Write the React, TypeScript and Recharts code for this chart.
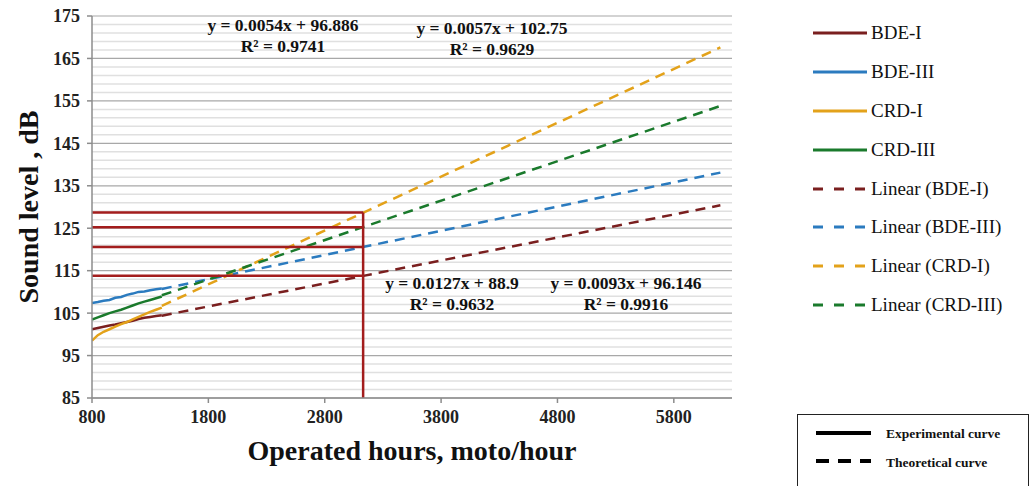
import { LineChart, Line, XAxis, YAxis, CartesianGrid, ReferenceLine } from 'recharts';

// experimental measurements (moto hours vs dB)
const HOURS_EXP = [800, 850, 900, 950, 1000, 1050, 1100, 1150, 1200, 1250, 1300, 1350, 1400];
const BDE_I = [101.2, 101.5, 101.8, 102.1, 102.3, 102.6, 102.9, 103.2, 103.6, 103.9, 104.1, 104.3, 104.5];
const BDE_III = [107.4, 107.6, 107.9, 108.1, 108.6, 108.8, 109.3, 109.6, 110.0, 110.1, 110.4, 110.6, 110.8];
const CRD_I = [98.5, 99.8, 100.6, 101.2, 101.8, 102.4, 102.9, 103.5, 104.1, 104.7, 105.3, 105.8, 106.3];
const CRD_III = [103.5, 104.0, 104.5, 105.0, 105.4, 105.8, 106.3, 106.8, 107.3, 107.7, 108.1, 108.5, 108.9];

// linear trend lines (start / end points)
const HOURS_TREND = [1400, 6200];
const TREND_BDE_I = [104.4, 130.4];
const TREND_BDE_III = [110.7, 138.1];
const TREND_CRD_I = [106.7, 167.6];
const TREND_CRD_III = [109.2, 153.8];

// guide lines at the reading point
const GUIDE_HOUR = 3130;
const GUIDE_LEVELS = [128.7, 125.2, 120.6, 113.8];

const X_TICKS = [800, 1800, 2800, 3800, 4800, 5800];
const Y_TICKS = [85, 95, 105, 115, 125, 135, 145, 155, 165, 175];
const Y_MINOR = Array.from({ length: 46 }, (_, i) => 85 + i * 2).filter((v) => !Y_TICKS.includes(v));

const EQUATIONS = [
  { eq: 'y = 0.0054x + 96.886', r2: 'R² = 0.9741', left: 283, top: 15 },
  { eq: 'y = 0.0057x + 102.75', r2: 'R² = 0.9629', left: 492, top: 18 },
  { eq: 'y = 0.0127x + 88.9', r2: 'R² = 0.9632', left: 452, top: 273 },
  { eq: 'y = 0.0093x + 96.146', r2: 'R² = 0.9916', left: 626, top: 273 },
];

const COLORS = {
  bdeI: '#7a1f1f',
  bdeIII: '#2b7bbf',
  crdI: '#e3a21a',
  crdIII: '#1a7a2c',
  guide: '#a31d1d',
};

const SERIES = [
  { name: 'BDE-I', color: COLORS.bdeI, dashed: false },
  { name: 'BDE-III', color: COLORS.bdeIII, dashed: false },
  { name: 'CRD-I', color: COLORS.crdI, dashed: false },
  { name: 'CRD-III', color: COLORS.crdIII, dashed: false },
  { name: 'Linear (BDE-I)', color: COLORS.bdeI, dashed: true },
  { name: 'Linear (BDE-III)', color: COLORS.bdeIII, dashed: true },
  { name: 'Linear (CRD-I)', color: COLORS.crdI, dashed: true },
  { name: 'Linear (CRD-III)', color: COLORS.crdIII, dashed: true },
];

const toPoints = (xs: number[], ys: number[]) => xs.map((x, i) => ({ x, y: ys[i] }));

const serif = '"Liberation Serif", "DejaVu Serif", serif';

function SideLegend() {
  return (
    <div style={{ position: 'absolute', left: 813, top: 14, fontFamily: serif, fontSize: 19, color: '#111' }}>
      {SERIES.map((s) => (
        <div key={s.name} style={{ display: 'flex', alignItems: 'center', height: 38.8 }}>
          <svg width={56} height={6}>
            <line
              x1={0}
              y1={3}
              x2={54}
              y2={3}
              stroke={s.color}
              strokeWidth={3}
              strokeDasharray={s.dashed ? '10 11' : undefined}
            />
          </svg>
          <span style={{ marginLeft: 2 }}>{s.name}</span>
        </div>
      ))}
    </div>
  );
}

export default function App() {
  const guideData = GUIDE_LEVELS.map((lv) => [
    { x: 800, y: lv },
    { x: GUIDE_HOUR, y: lv },
  ]);
  const guideVertical = [
    { x: GUIDE_HOUR, y: 85 },
    { x: GUIDE_HOUR, y: GUIDE_LEVELS[0] },
  ];

  return (
    <div style={{ position: 'absolute', left: 0, top: 0, width: 1034, height: 486, background: '#fff' }}>
      <LineChart width={1034} height={486} margin={{ top: 16, right: 302, bottom: 58, left: 0 }}>
        <CartesianGrid yAxisId="main" vertical={false} stroke="#a8a8a8" strokeWidth={1.2} />
        {Y_MINOR.map((v) => (
          <ReferenceLine key={`minor-${v}`} yAxisId="main" y={v} stroke="#e0e0e0" strokeWidth={1.5} />
        ))}
        <XAxis
          dataKey="x"
          type="number"
          domain={[800, 6300]}
          ticks={X_TICKS}
          allowDataOverflow
          stroke="#8c8c8c"
          strokeWidth={1.5}
          tickSize={5}
          tickMargin={7}
          height={30}
          tick={{ fill: '#222', fontFamily: serif, fontWeight: 700, fontSize: 18 }}
        />
        <YAxis
          yAxisId="main"
          type="number"
          domain={[85, 175]}
          ticks={Y_TICKS}
          stroke="#8c8c8c"
          strokeWidth={1.5}
          tickSize={5}
          tickMargin={7}
          width={92}
          tick={{ fill: '#222', fontFamily: serif, fontWeight: 700, fontSize: 18 }}
        />

        <Line yAxisId="main" data={toPoints(HOURS_TREND, TREND_BDE_I)} dataKey="y" stroke={COLORS.bdeI} strokeWidth={2.5} strokeDasharray="10 7" dot={false} isAnimationActive={false} />
        <Line yAxisId="main" data={toPoints(HOURS_TREND, TREND_BDE_III)} dataKey="y" stroke={COLORS.bdeIII} strokeWidth={2.5} strokeDasharray="10 7" dot={false} isAnimationActive={false} />
        <Line yAxisId="main" data={toPoints(HOURS_TREND, TREND_CRD_I)} dataKey="y" stroke={COLORS.crdI} strokeWidth={2.5} strokeDasharray="10 7" dot={false} isAnimationActive={false} />
        <Line yAxisId="main" data={toPoints(HOURS_TREND, TREND_CRD_III)} dataKey="y" stroke={COLORS.crdIII} strokeWidth={2.5} strokeDasharray="10 7" dot={false} isAnimationActive={false} />

        <Line yAxisId="main" data={toPoints(HOURS_EXP, BDE_I)} dataKey="y" stroke={COLORS.bdeI} strokeWidth={2.5} dot={false} isAnimationActive={false} />
        <Line yAxisId="main" data={toPoints(HOURS_EXP, BDE_III)} dataKey="y" stroke={COLORS.bdeIII} strokeWidth={2.5} dot={false} isAnimationActive={false} />
        <Line yAxisId="main" data={toPoints(HOURS_EXP, CRD_I)} dataKey="y" stroke={COLORS.crdI} strokeWidth={2.5} dot={false} isAnimationActive={false} />
        <Line yAxisId="main" data={toPoints(HOURS_EXP, CRD_III)} dataKey="y" stroke={COLORS.crdIII} strokeWidth={2.5} dot={false} isAnimationActive={false} />

        {guideData.map((d, i) => (
          <Line key={`guide-${i}`} yAxisId="main" data={d} dataKey="y" stroke={COLORS.guide} strokeWidth={2.5} dot={false} isAnimationActive={false} />
        ))}
        <Line yAxisId="main" data={guideVertical} dataKey="y" stroke={COLORS.guide} strokeWidth={2.5} dot={false} isAnimationActive={false} />
      </LineChart>

      {/* axis titles */}
      <div
        style={{
          position: 'absolute',
          left: 29,
          top: 207,
          transform: 'translate(-50%, -50%) rotate(-90deg)',
          whiteSpace: 'nowrap',
          fontFamily: serif,
          fontWeight: 700,
          fontSize: 28,
          color: '#111',
        }}
      >
        Sound level , dB
      </div>
      <div
        style={{
          position: 'absolute',
          left: 412,
          top: 451,
          transform: 'translate(-50%, -50%)',
          whiteSpace: 'nowrap',
          fontFamily: serif,
          fontWeight: 700,
          fontSize: 28,
          color: '#111',
        }}
      >
        Operated hours, moto/hour
      </div>

      {/* trend line equations */}
      {EQUATIONS.map((e) => (
        <div
          key={e.eq}
          style={{
            position: 'absolute',
            left: e.left,
            top: e.top,
            transform: 'translateX(-50%)',
            textAlign: 'center',
            whiteSpace: 'nowrap',
            fontFamily: serif,
            fontWeight: 700,
            fontSize: 17.5,
            lineHeight: '21px',
            color: '#111',
          }}
        >
          <div>{e.eq}</div>
          <div>{e.r2}</div>
        </div>
      ))}

      <SideLegend />

      {/* curve type box */}
      <div
        style={{
          position: 'absolute',
          left: 797,
          top: 414,
          width: 232,
          height: 80,
          border: '1.5px solid #222',
          boxSizing: 'border-box',
          fontFamily: serif,
          fontWeight: 700,
          fontSize: 13.5,
          color: '#111',
        }}
      >
        <svg width={60} height={60} style={{ position: 'absolute', left: 18, top: 10 }}>
          <line x1={0} y1={8} x2={55} y2={8} stroke="#000" strokeWidth={4} />
          <line x1={0} y1={36} x2={55} y2={36} stroke="#000" strokeWidth={4} strokeDasharray="13 9" />
        </svg>
        <div style={{ position: 'absolute', left: 88, top: 11 }}>Experimental curve</div>
        <div style={{ position: 'absolute', left: 88, top: 40 }}>Theoretical curve</div>
      </div>
    </div>
  );
}
